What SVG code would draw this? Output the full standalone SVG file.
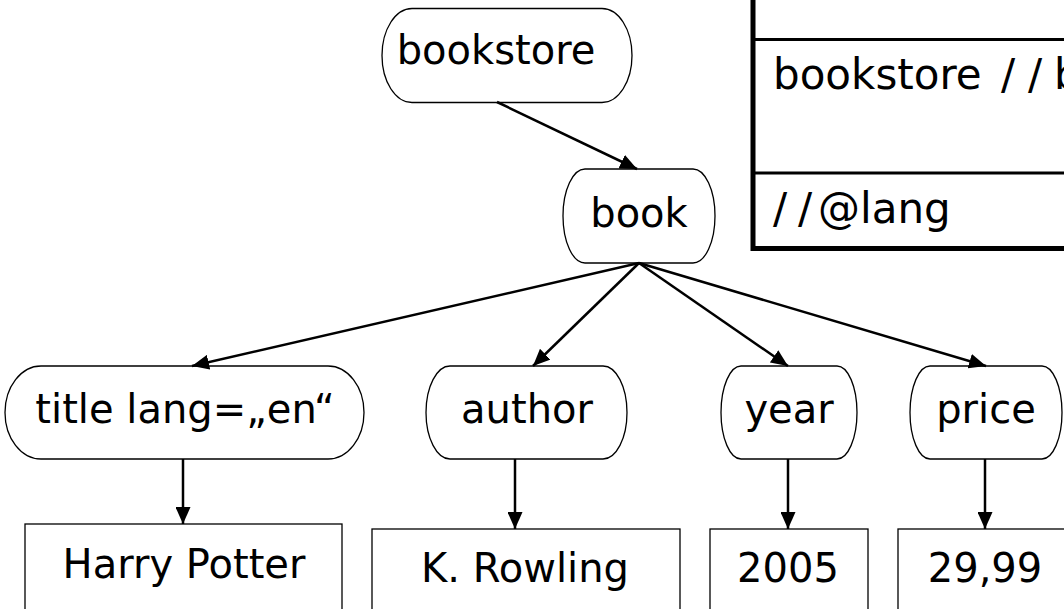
<svg xmlns="http://www.w3.org/2000/svg" width="1064" height="609" viewBox="0 0 1064 609">
<defs>
<style>
.n{fill:#fff;stroke:#000;stroke-width:1.3}
.t{font-family:"DejaVu Sans",sans-serif;font-size:40px;fill:#000;text-anchor:middle}
.tl{font-family:"DejaVu Sans",sans-serif;font-size:42px;fill:#000}
.c{stroke:#000;stroke-width:2.5;fill:none;marker-end:url(#ah)}
</style>
<marker id="ah" viewBox="0 0 17 15" refX="17" refY="7.5" markerWidth="17" markerHeight="15" markerUnits="userSpaceOnUse" orient="auto">
<path d="M0,0 L17,7.5 L0,15 z" fill="#000"/>
</marker>
</defs>
<rect width="1064" height="609" fill="#fff"/>
<g id="table">
<line x1="753" y1="0" x2="753" y2="251" stroke="#000" stroke-width="5"/>
<line x1="751" y1="39.5" x2="1064" y2="39.5" stroke="#000" stroke-width="3"/>
<line x1="751" y1="173" x2="1064" y2="173" stroke="#000" stroke-width="3"/>
<line x1="751" y1="248.5" x2="1064" y2="248.5" stroke="#000" stroke-width="5"/>
<text class="tl" y="89"><tspan x="773">bookstore</tspan><tspan x="1001">/</tspan><tspan x="1028">/</tspan><tspan x="1054">b</tspan></text>
<text class="tl" y="223"><tspan x="773">/</tspan><tspan x="798">/</tspan><tspan x="818">@lang</tspan></text>
</g>
<g id="n-bookstore"><rect class="n" x="382" y="8.5" width="250" height="94" rx="30" ry="47"/><text class="t" x="496" y="64">bookstore</text></g>
<g id="n-book"><rect class="n" x="563" y="169" width="152" height="94" rx="22" ry="47"/><text class="t" x="639" y="227">book</text></g>
<g id="n-title"><rect class="n" x="5" y="366" width="359" height="93" rx="36" ry="46.5"/><text class="t" x="185" y="423">title lang=„en“</text></g>
<g id="n-author"><rect class="n" x="426" y="366" width="201" height="93" rx="24" ry="46.5"/><text class="t" x="527" y="423">author</text></g>
<g id="n-year"><rect class="n" x="721" y="366" width="136" height="93" rx="20" ry="46.5"/><text class="t" x="789" y="423">year</text></g>
<g id="n-price"><rect class="n" x="910" y="366" width="152" height="93" rx="20" ry="46.5"/><text class="t" x="986" y="423">price</text></g>
<g id="v-hp"><rect class="n" x="25" y="524" width="317" height="100"/><text class="t" x="184" y="578">Harry Potter</text></g>
<g id="v-kr"><rect class="n" x="372" y="529" width="308" height="100"/><text class="t" x="525" y="582">K. Rowling</text></g>
<g id="v-2005"><rect class="n" x="710" y="529" width="158" height="100"/><text class="t" x="788" y="582">2005</text></g>
<g id="v-price"><rect class="n" x="898" y="529" width="180" height="100"/><text class="t" x="985" y="582">29,99</text></g>
<g id="connectors">
<line class="c" x1="497" y1="102" x2="637" y2="169"/>
<line class="c" x1="639" y1="263" x2="192" y2="366"/>
<line class="c" x1="639" y1="263" x2="533" y2="366"/>
<line class="c" x1="639" y1="263" x2="788" y2="366"/>
<line class="c" x1="639" y1="263" x2="986" y2="366"/>
<line class="c" x1="183" y1="459" x2="183" y2="524"/>
<line class="c" x1="515" y1="459" x2="515" y2="529"/>
<line class="c" x1="788" y1="459" x2="788" y2="529"/>
<line class="c" x1="985" y1="459" x2="985" y2="529"/>
</g>
</svg>
